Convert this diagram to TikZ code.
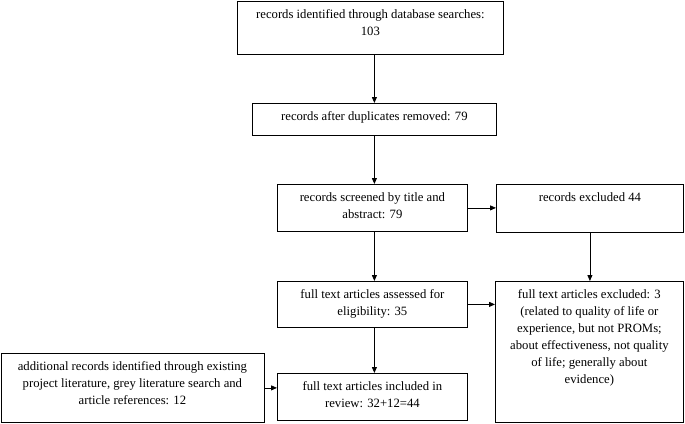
\documentclass[tikz,border=0pt]{standalone}
\usepackage{fontspec}
\setmainfont{Liberation Serif}
\usetikzlibrary{arrows.meta}

\begin{document}
\begin{tikzpicture}[
  x=1pt, y=-1pt,
  >={Triangle[length=6pt,width=5pt]},
  stage/.style={draw=black,line width=0.8pt,inner sep=0pt,anchor=north west,
    font=\fontsize{12.7}{17}\selectfont},
  flow/.style={->,line width=0.8pt}
]

\def\panel#1#2#3{\parbox[c][#2pt][t]{#1pt}{\centering\vspace*{8.5pt}#3}}

\useasboundingbox (0,0) rectangle (685,423);

% main column
\node[stage] (ident) at (237,0.5) {\panel{266}{53}{records identified through database searches:\\103}};
\node[stage] (dup) at (252,103) {\panel{244}{32}{records after duplicates removed: 79}};
\node[stage] (screen) at (277,184) {\panel{190}{47}{records screened by title and\\abstract: 79}};
\node[stage] (assess) at (277,281) {\panel{190}{46}{full text articles assessed for\\eligibility: 35}};
\node[stage] (incl) at (277,373) {\panel{190}{47}{full text articles included in\\review: 32+12=44}};

% right column
\node[stage] (excl) at (496,184) {\panel{187}{48}{records excluded 44}};
\node[stage] (fullexcl) at (495,281) {\panel{188}{141}{full text articles excluded: 3\\(related to quality of life or\\experience, but not PROMs;\\about effectiveness, not quality\\of life; generally about\\evidence)}};

% left box
\node[stage] (extra) at (0.5,353) {\panel{263}{69}{additional records identified through existing\\project literature, grey literature search and\\article references: 12}};

\draw[flow] (ident.south -| dup.north) -- (dup.north);
\draw[flow] (dup.south) -- (dup.south |- screen.north);
\draw[flow] (dup.south |- screen.south) -- (dup.south |- assess.north);
\draw[flow] (dup.south |- assess.south) -- (dup.south |- incl.north);
\draw[flow] (screen.east) -- (screen.east -| excl.west);
\draw[flow] (excl.south) -- (excl.south |- fullexcl.north);
\draw[flow] (assess.east) -- (assess.east -| fullexcl.west);
\draw[flow] (extra.east) -- (extra.east -| incl.west);

\end{tikzpicture}
\end{document}
